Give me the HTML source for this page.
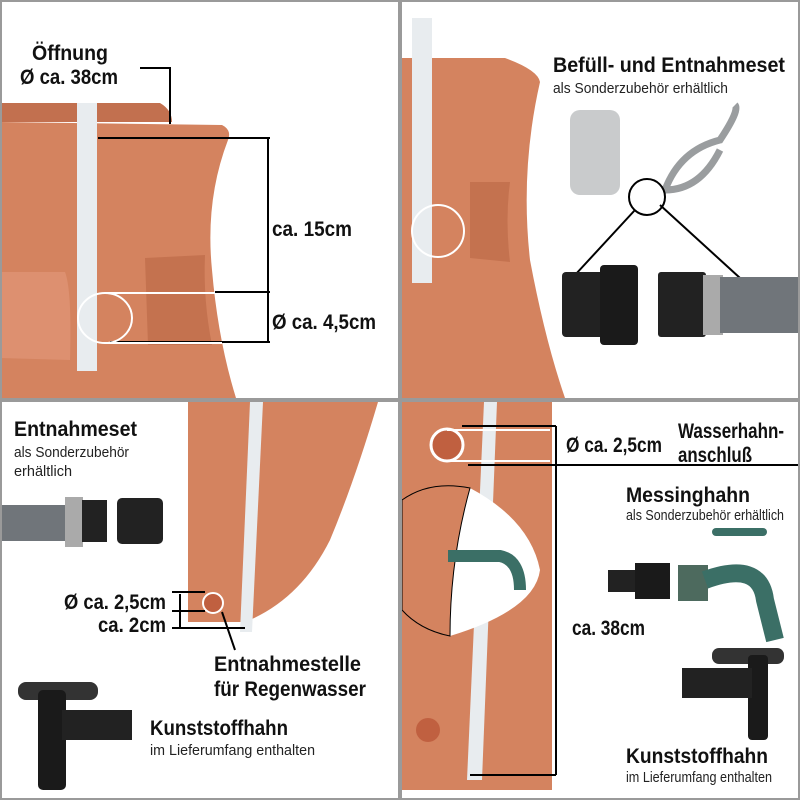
<!DOCTYPE html>
<html><head><meta charset="utf-8"><style>html,body{margin:0;padding:0;background:#fff}svg{display:block}
.b{font-family:"Liberation Sans",sans-serif;font-weight:bold;fill:#111}
.s{font-family:"Liberation Sans",sans-serif;fill:#222}</style></head><body>
<svg width="800" height="800" viewBox="0 0 800 800" xmlns="http://www.w3.org/2000/svg">
<rect width="800" height="800" fill="#fff"/>
<!-- TL -->
<path d="M0 103 L160 103 Q172 110 172 122 L0 122Z" fill="#c2704f"/>
<path d="M0 122 L222 125 Q232 130 228 140 Q205 200 212 270 Q218 340 236 398 L0 398Z" fill="#d4835f"/>
<path d="M0 272 L65 272 Q72 290 70 360 L0 358Z" fill="#dd9070"/>
<path d="M145 258 L205 255 Q203 300 212 345 L148 345Z" fill="#c4724f"/>
<rect x="77" y="103" width="20" height="268" fill="#e8ecef"/>
<g stroke="#000" stroke-width="2" fill="none">
<path d="M98 138H270M215 292H270M110 342H270M268 138V342M140 68H170V124"/>
</g>
<ellipse cx="105" cy="318" rx="27" ry="25" fill="none" stroke="#fff" stroke-width="2"/>
<path d="M105 293H215M105 343H222" stroke="#fff" stroke-width="2"/>
<text class="b" x="32" y="60" font-size="21" textLength="76" lengthAdjust="spacingAndGlyphs">Öffnung</text>
<text class="b" x="20" y="84" font-size="21" textLength="98" lengthAdjust="spacingAndGlyphs">Ø ca. 38cm</text>
<text class="b" x="272" y="236" font-size="21" textLength="80" lengthAdjust="spacingAndGlyphs">ca. 15cm</text>
<text class="b" x="272" y="329" font-size="21" textLength="104" lengthAdjust="spacingAndGlyphs">Ø ca. 4,5cm</text>
<!-- TR -->
<path d="M402 58 L505 58 Q538 70 540 82 Q520 170 530 260 Q545 340 565 398 L402 398Z" fill="#d4835f"/>
<path d="M470 182 L510 182 Q505 220 510 262 L470 258Z" fill="#c4724f"/>
<rect x="412" y="18" width="20" height="265" fill="#e8ecef"/>
<circle cx="438" cy="231" r="26" fill="none" stroke="#fff" stroke-width="2"/>
<text class="b" x="553" y="72" font-size="21" textLength="232" lengthAdjust="spacingAndGlyphs">Befüll- und Entnahmeset</text>
<text class="s" x="553" y="93" font-size="15" textLength="175" lengthAdjust="spacingAndGlyphs">als Sonderzubehör erhältlich</text>
<rect x="570" y="110" width="50" height="85" rx="10" fill="#c9cbcc"/>
<path d="M665 190 Q680 150 720 140 Q740 110 735 105 M665 190 Q700 190 720 150" stroke="#9a9d9f" stroke-width="7" fill="none"/>
<circle cx="647" cy="197" r="18" fill="none" stroke="#000" stroke-width="2"/>
<path d="M635 210L575 275M660 205L740 278" stroke="#000" stroke-width="2"/>
<rect x="562" y="272" width="45" height="65" rx="4" fill="#222"/>
<rect x="600" y="265" width="38" height="80" rx="4" fill="#1a1a1a"/>
<rect x="658" y="272" width="48" height="65" rx="3" fill="#222"/>
<rect x="703" y="275" width="20" height="60" fill="#aaa"/>
<rect x="720" y="277" width="80" height="56" fill="#70757a"/>
<!-- BL -->
<path d="M188 402 L378 402 Q355 480 330 540 Q300 600 245 622 L188 622Z" fill="#d4835f"/>
<path d="M250 402 L263 402 L252 632 L240 632Z" fill="#e8ecef"/>
<circle cx="213" cy="603" r="10" fill="#c06040" stroke="#fff" stroke-width="2"/>
<g stroke="#000" stroke-width="2" fill="none"><path d="M172 592H205M172 611H205M172 628H245M180 594V627M222 612L235 650"/></g>
<text class="b" x="14" y="436" font-size="21" textLength="123" lengthAdjust="spacingAndGlyphs">Entnahmeset</text>
<text class="s" x="14" y="457" font-size="15" textLength="115" lengthAdjust="spacingAndGlyphs">als Sonderzubehör</text>
<text class="s" x="14" y="476" font-size="15" textLength="58" lengthAdjust="spacingAndGlyphs">erhältlich</text>
<rect x="0" y="505" width="70" height="36" fill="#70757a"/>
<rect x="65" y="497" width="18" height="50" fill="#aaa"/>
<rect x="82" y="500" width="25" height="42" fill="#222"/>
<rect x="117" y="498" width="46" height="46" rx="5" fill="#222"/>
<text class="b" x="64" y="609" font-size="21" textLength="102" lengthAdjust="spacingAndGlyphs">Ø ca. 2,5cm</text>
<text class="b" x="98" y="632" font-size="21" textLength="68" lengthAdjust="spacingAndGlyphs">ca. 2cm</text>
<text class="b" x="214" y="671" font-size="21" textLength="147" lengthAdjust="spacingAndGlyphs">Entnahmestelle</text>
<text class="b" x="214" y="696" font-size="21" textLength="152" lengthAdjust="spacingAndGlyphs">für Regenwasser</text>
<rect x="18" y="682" width="80" height="18" rx="8" fill="#333"/>
<rect x="38" y="690" width="28" height="100" rx="5" fill="#1a1a1a"/>
<rect x="62" y="710" width="70" height="30" fill="#222"/>
<text class="b" x="150" y="735" font-size="21" textLength="138" lengthAdjust="spacingAndGlyphs">Kunststoffhahn</text>
<text class="s" x="150" y="755" font-size="15" textLength="165" lengthAdjust="spacingAndGlyphs">im Lieferumfang enthalten</text>
<!-- BR -->
<path d="M402 402 L552 402 L552 790 L402 790Z" fill="#d4835f"/>
<path d="M484 402 L497 402 L482 780 L467 780Z" fill="#e8ecef"/>
<circle cx="447" cy="445" r="16" fill="#c06040" stroke="#fff" stroke-width="3"/>
<circle cx="428" cy="730" r="12" fill="#c06040"/>
<path d="M402 500 Q430 480 470 488 Q530 520 540 570 Q535 610 450 636 Q420 630 402 610Z" fill="#fff"/>
<path d="M470 488 Q440 540 450 636" stroke="#d4835f" stroke-width="1" fill="none"/>
<path d="M402 500 Q430 480 470 488 Q450 560 450 636 Q420 630 402 610Z" fill="#d4835f" stroke="#000" stroke-width="1"/>
<path d="M448 556 H500 Q520 560 520 590" stroke="#3b6f66" stroke-width="12" fill="none"/>
<g stroke="#000" stroke-width="2" fill="none"><path d="M462 426H556M468 465H800M556 426V775M556 775H470"/></g>
<path d="M447 430H550M447 461H550" stroke="#fff" stroke-width="2"/>
<text class="b" x="566" y="452" font-size="21" textLength="96" lengthAdjust="spacingAndGlyphs">Ø ca. 2,5cm</text>
<text class="b" x="678" y="438" font-size="21" textLength="106" lengthAdjust="spacingAndGlyphs">Wasserhahn-</text>
<text class="b" x="678" y="462" font-size="21" textLength="74" lengthAdjust="spacingAndGlyphs">anschluß</text>
<text class="b" x="626" y="502" font-size="21" textLength="124" lengthAdjust="spacingAndGlyphs">Messinghahn</text>
<text class="s" x="626" y="520" font-size="15" textLength="158" lengthAdjust="spacingAndGlyphs">als Sonderzubehör erhältlich</text>
<text class="b" x="572" y="635" font-size="21" textLength="73" lengthAdjust="spacingAndGlyphs">ca. 38cm</text>
<rect x="608" y="570" width="30" height="22" fill="#222"/>
<rect x="635" y="563" width="35" height="36" fill="#1a1a1a"/>
<rect x="678" y="565" width="30" height="36" fill="#4d6a5e"/>
<path d="M705 580 Q760 560 765 600 L775 640" stroke="#3b6f66" stroke-width="18" fill="none"/>
<rect x="712" y="528" width="55" height="8" rx="4" fill="#3b6f66"/>
<rect x="712" y="648" width="72" height="16" rx="7" fill="#333"/>
<rect x="748" y="655" width="20" height="85" rx="4" fill="#1a1a1a"/>
<rect x="682" y="668" width="70" height="30" fill="#222"/>
<text class="b" x="626" y="763" font-size="21" textLength="142" lengthAdjust="spacingAndGlyphs">Kunststoffhahn</text>
<text class="s" x="626" y="782" font-size="15" textLength="146" lengthAdjust="spacingAndGlyphs">im Lieferumfang enthalten</text>
<!-- frame -->
<g fill="#9a9a9a"><rect x="398" y="0" width="4" height="800"/><rect x="0" y="398" width="800" height="4"/>
<rect x="0" y="0" width="800" height="2"/><rect x="0" y="798" width="800" height="2"/><rect x="0" y="0" width="2" height="800"/><rect x="798" y="0" width="2" height="800"/></g>
</svg></body></html>
